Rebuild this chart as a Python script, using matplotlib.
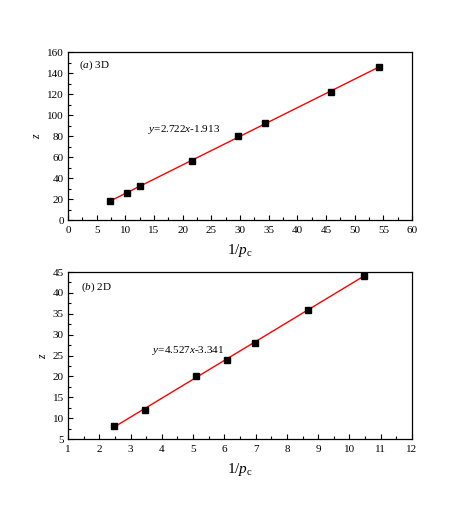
import numpy as np
import matplotlib
matplotlib.use('Agg')
import matplotlib.pyplot as plt
from matplotlib.ticker import MultipleLocator

plt.rcParams['font.family'] = ['Liberation Serif', 'DejaVu Serif']
plt.rcParams['mathtext.fontset'] = 'custom'
plt.rcParams['mathtext.rm'] = 'Liberation Serif'
plt.rcParams['mathtext.it'] = 'Liberation Serif:italic'

# (a) 3D data
x_3d = [7.3, 10.3, 12.5, 21.7, 29.7, 34.4, 45.8, 54.3]
z_3d = [18, 26, 32, 56, 80, 92, 122, 146]
fit_3d = (2.722, -1.913)

# (b) 2D data
x_2d = [2.47, 3.47, 5.08, 6.07, 6.98, 8.67, 10.45]
z_2d = [8, 12, 20, 24, 28, 36, 44]
fit_2d = (4.527, -3.341)

fig = plt.figure(figsize=(4.57, 5.23), dpi=100)
ax1 = fig.add_axes([0.1488, 0.5793, 0.7527, 0.3212])
ax2 = fig.add_axes([0.1488, 0.1606, 0.7527, 0.3193])


def draw(ax, x, z, fit, xlim, ylim, xmaj, ymaj, label, eq_pos, lab_pos, eq):
    x = np.array(x)
    xx = np.array([x.min(), x.max()])
    ax.plot(xx, fit[0] * xx + fit[1], color='red', lw=1.0, zorder=2)
    ax.plot(x, z, 's', color='black', ms=4.2, zorder=3)
    ax.set_xlim(*xlim)
    ax.set_ylim(*ylim)
    ax.xaxis.set_major_locator(MultipleLocator(xmaj))
    ax.xaxis.set_minor_locator(MultipleLocator(xmaj / 2))
    ax.yaxis.set_major_locator(MultipleLocator(ymaj))
    ax.yaxis.set_minor_locator(MultipleLocator(ymaj / 2))
    ax.tick_params(which='both', direction='in', labelsize=8)
    ax.tick_params(axis='x', which='both', pad=4)
    ax.tick_params(axis='y', which='both', pad=3)
    ax.tick_params(which='major', length=3.6, width=0.8)
    ax.tick_params(which='minor', length=2.2, width=0.8)
    for s in ax.spines.values():
        s.set_linewidth(0.9)
    ax.set_xlabel(r'1/$\mathit{p}_{\mathrm{c}}$', fontsize=11, labelpad=5)
    ax.set_ylabel(r'$\mathit{z}$', fontsize=8.5, labelpad=3)
    ax.text(lab_pos[0], lab_pos[1], label, fontsize=8, va='center', ha='left')
    ax.text(eq_pos[0], eq_pos[1], eq, fontsize=8, va='center', ha='left')


draw(ax1, x_3d, z_3d, fit_3d, (0, 60), (0, 160), 5, 20,
     r'($\mathit{a}$) 3D', (14, 86), (1.9, 147), r'$\mathit{y}$=2.722$\mathit{x}$-1.913')
draw(ax2, x_2d, z_2d, fit_2d, (1, 12), (5, 45), 1, 5,
     r'($\mathit{b}$) 2D', (3.68, 26.1), (1.4, 41.4), r'$\mathit{y}$=4.527$\mathit{x}$-3.341')

fig.savefig('out.png', dpi=100)
